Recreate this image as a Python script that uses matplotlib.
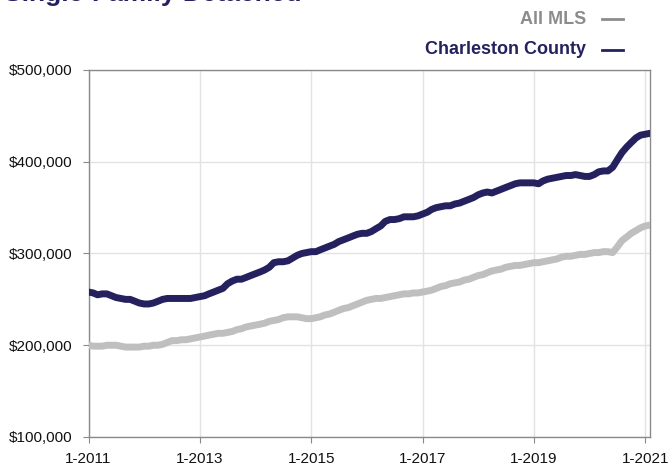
import pandas as pd
import matplotlib.pyplot as plt
from matplotlib.lines import Line2D
import matplotlib.ticker as mticker

# monthly median sales price, in thousands of dollars, Jan 2011 - Feb 2021
months = pd.date_range("2011-01-01", "2021-02-01", freq="MS")

charleston = [
    258, 257, 255, 256, 256, 254, 252, 251, 250, 250, 248, 246,
    245, 245, 246, 248, 250, 251, 251, 251, 251, 251, 251, 252,
    253, 254, 256, 258, 260, 262, 267, 270, 272, 272, 274, 276,
    278, 280, 282, 285, 290, 291, 291, 292, 295, 298, 300, 301,
    302, 302, 304, 306, 308, 310, 313, 315, 317, 319, 321, 322,
    322, 324, 327, 330, 335, 337, 337, 338, 340, 340, 340, 341,
    343, 345, 348, 350, 351, 352, 352, 354, 355, 357, 359, 361,
    364, 366, 367, 366, 368, 370, 372, 374, 376, 377, 377, 377,
    377, 376, 379, 381, 382, 383, 384, 385, 385, 386, 385, 384,
    384, 386, 389, 390, 390, 394, 402, 410, 416, 421, 426, 429,
    430, 431,
]

all_mls = [
    200, 199, 199, 199, 200, 200, 200, 199, 198, 198, 198, 198,
    199, 199, 200, 200, 201, 203, 205, 205, 206, 206, 207, 208,
    209, 210, 211, 212, 213, 213, 214, 215, 217, 218, 220, 221,
    222, 223, 224, 226, 227, 228, 230, 231, 231, 231, 230, 229,
    229, 230, 231, 233, 234, 236, 238, 240, 241, 243, 245, 247,
    249, 250, 251, 251, 252, 253, 254, 255, 256, 256, 257, 257,
    258, 259, 260, 262, 264, 265, 267, 268, 269, 271, 272, 274,
    276, 277, 279, 281, 282, 283, 285, 286, 287, 287, 288, 289,
    290, 290, 291, 292, 293, 294, 296, 297, 297, 298, 299, 299,
    300, 301, 301, 302, 302, 301, 307, 314, 318, 322, 325, 328,
    330, 331,
]

series_names = ["All MLS", "Charleston County"]
y_ticks = [100000, 200000, 300000, 400000, 500000]
x_tick_dates = pd.to_datetime(["2011-01-01", "2013-01-01", "2015-01-01",
                               "2017-01-01", "2019-01-01", "2021-01-01"])
x_tick_labels = ["1-2011", "1-2013", "1-2015", "1-2017", "1-2019", "1-2021"]

navy = "#24215e"
grey = "#bfbfbf"

plt.rcParams['font.family'] = ['Liberation Sans', 'DejaVu Sans']

fig = plt.figure(figsize=(6.71, 4.66), dpi=100)
ax = fig.add_axes([88.5 / 671, 1 - 437 / 466, (650 - 88.5) / 671, (437 - 70) / 466])

ax.plot(months, [v * 1000 for v in all_mls], color=grey, lw=5, solid_capstyle="round", zorder=3)
ax.plot(months, [v * 1000 for v in charleston], color=navy, lw=5, solid_capstyle="round", zorder=4)

ax.set_ylim(100000, 500000)
ax.set_xlim(months[0], months[-1])
ax.set_yticks(y_ticks)
ax.yaxis.set_major_formatter(mticker.FuncFormatter(lambda v, p: f"${v:,.0f}"))
ax.set_xticks(x_tick_dates)
ax.set_xticklabels(x_tick_labels)

ax.grid(True, color="#e2e2e2", lw=1)
ax.set_axisbelow(True)
for s in ax.spines.values():
    s.set_color("#8a8a8a")
    s.set_linewidth(1)
ax.tick_params(axis="both", length=4, color="#8a8a8a", labelsize=11, labelcolor="#111111")
ax.tick_params(axis="y", pad=7.5)
ax.tick_params(axis="x", pad=6.5)

# title, cut off by the top edge as in the source image
fig.text(4 / 671, 1 - 0.5 / 466, "Single-Family Detached", color=navy, fontsize=19,
         fontweight="bold", va="baseline")

# legend on the upper right
for name, col, ypx in [(series_names[0], "#8c8c8c", 19), (series_names[1], navy, 50)]:
    fig.text(586 / 671, 1 - ypx / 466, name, color=col, fontsize=13, fontweight="bold",
             ha="right", va="center")
    fig.add_artist(Line2D([602 / 671, 623 / 671], [1 - ypx / 466, 1 - ypx / 466],
                          color=col, lw=2, transform=fig.transFigure))

fig.savefig("out.png", dpi=100)
